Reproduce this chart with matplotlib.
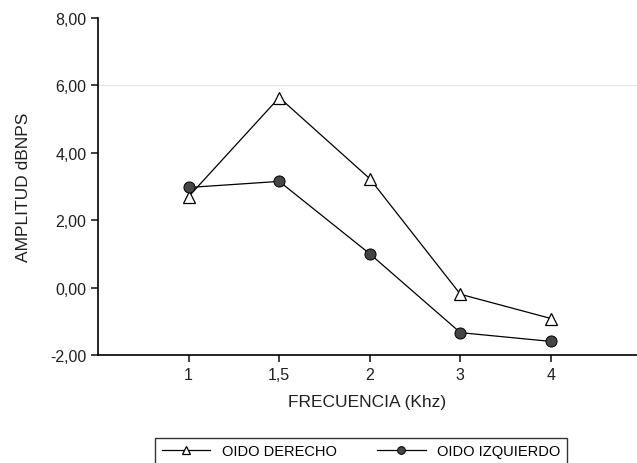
import numpy as np
import matplotlib.pyplot as plt
from matplotlib.ticker import FuncFormatter

plt.rcParams['font.family'] = ['Liberation Sans', 'DejaVu Sans']

# datos
frecuencias = ['1', '1,5', '2', '3', '4']
oido_derecho = [2.70, 5.64, 3.23, -0.20, -0.92]
oido_izquierdo = [2.97, 3.15, 1.00, -1.34, -1.60]

fig = plt.figure(figsize=(6.37, 4.64), dpi=100)
ax = fig.add_axes([0.154, 0.233, 0.846, 0.726])

pos = np.arange(1, len(frecuencias) + 1)
ax.plot(pos, oido_derecho, color='black', lw=0.9, marker='^', ms=9,
        mfc='white', mec='black', mew=0.9, label='OIDO DERECHO')
ax.plot(pos, oido_izquierdo, color='black', lw=0.9, marker='o', ms=8,
        mfc='#454545', mec='black', mew=0.7, label='OIDO IZQUIERDO')

ax.set_xlim(0, 5.95)
ax.set_ylim(-2, 8)
ax.set_xticks(pos)
ax.set_xticklabels(frecuencias)
ax.set_yticks([-2, 0, 2, 4, 6, 8])
ax.yaxis.set_major_formatter(FuncFormatter(lambda v, p: f'{v:.2f}'.replace('.', ',')))
ax.axhline(6, color='#e6e6e6', lw=1, zorder=0)

for s in ['top', 'right']:
    ax.spines[s].set_visible(False)
for s in ['left', 'bottom']:
    ax.spines[s].set_linewidth(1.2)
ax.tick_params(labelsize=11.5, length=5, width=1.2, colors='#202020')

ax.set_xlabel('FRECUENCIA (Khz)', fontsize=12.5, labelpad=9, color='#202020')
ax.set_ylabel('AMPLITUD dBNPS', fontsize=12.5, labelpad=14, color='#202020')

leg = fig.legend(loc='lower center', bbox_to_anchor=(0.567, -0.02), ncol=2,
                 frameon=True, fancybox=False, edgecolor='black', fontsize=10.5,
                 handlelength=3.3, columnspacing=2.8, borderpad=0.45,
                 borderaxespad=0.5, markerscale=0.7)
leg.get_frame().set_linewidth(1)

fig.savefig('out.png', dpi=100)
